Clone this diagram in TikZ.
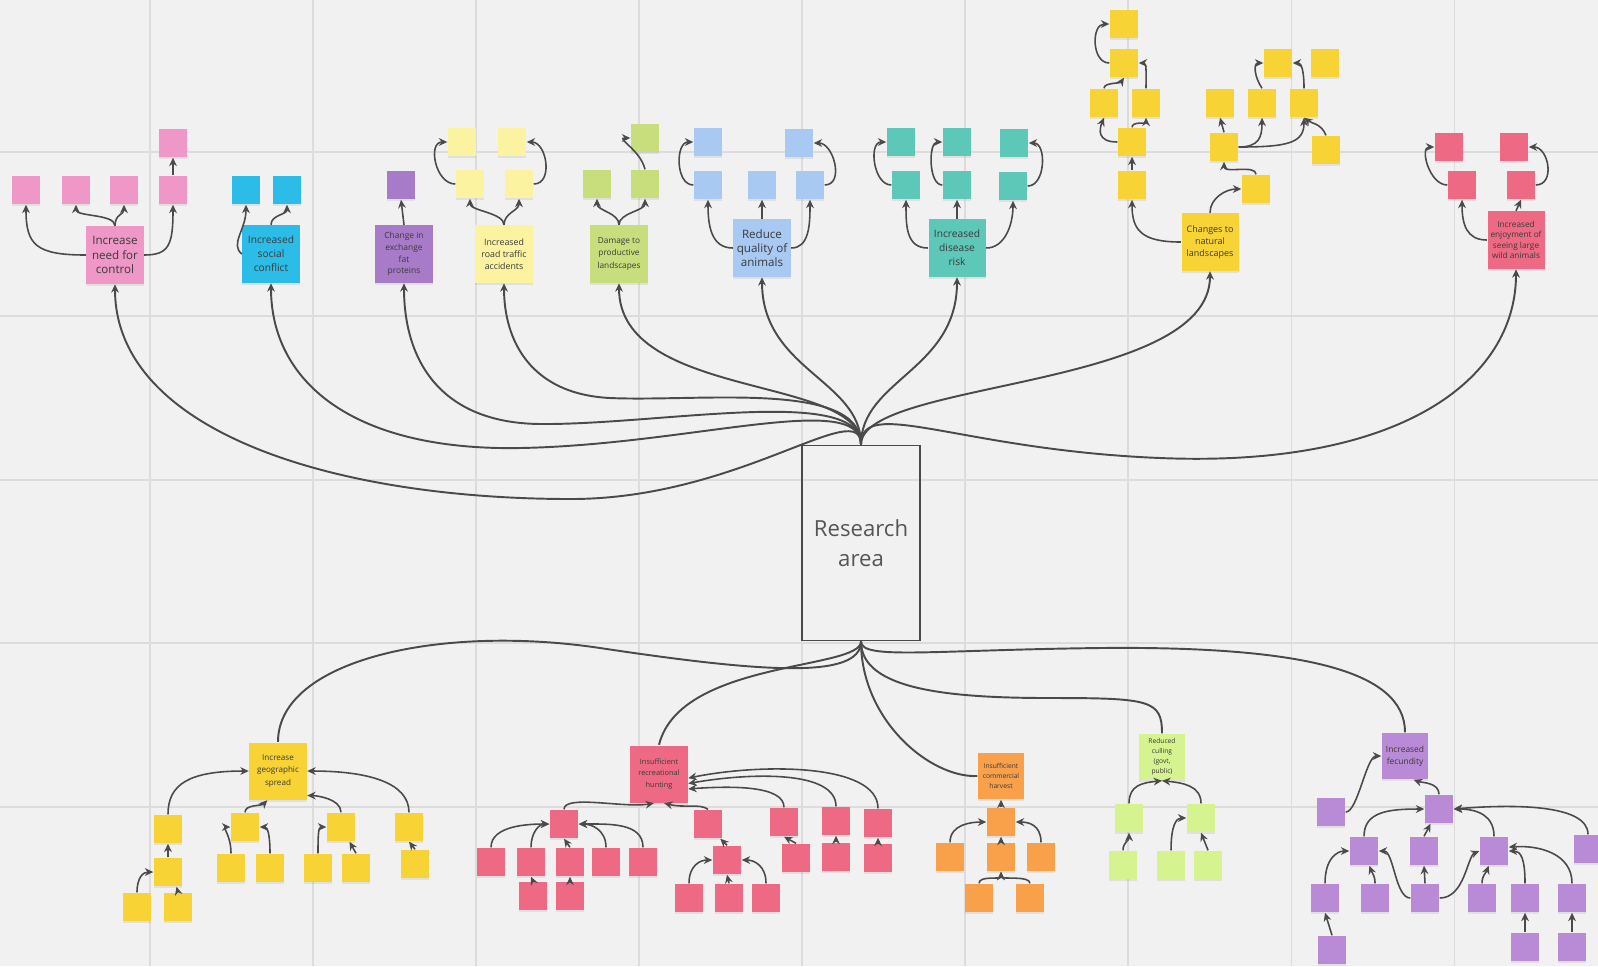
\documentclass[tikz,border=0pt]{standalone}
\usepackage{fontspec}
\setmainfont{Open Sans}
\usetikzlibrary{arrows.meta,shadows}

\definecolor{canvasgrey}{HTML}{F1F1F1}
\definecolor{gridgrey}{HTML}{DCDCDC}
\definecolor{linkgrey}{HTML}{4A4A4A}
\definecolor{notetext}{HTML}{3A3A3A}
\definecolor{areatext}{HTML}{555555}
\definecolor{notepink}{HTML}{EF97C6}
\definecolor{notecyan}{HTML}{2BBDE8}
\definecolor{noteviolet}{HTML}{A77BC8}
\definecolor{notecream}{HTML}{FBF3A0}
\definecolor{notelime}{HTML}{C8DE7C}
\definecolor{noteblue}{HTML}{A8C9F2}
\definecolor{noteteal}{HTML}{5DC8B8}
\definecolor{noteyellow}{HTML}{F8D335}
\definecolor{noterose}{HTML}{EE6A84}
\definecolor{noteorange}{HTML}{F9A04B}
\definecolor{notemint}{HTML}{D5F38F}
\definecolor{notelilac}{HTML}{B98AD6}

\newcommand{\notesize}[2]{\fontsize{#1}{#2}\selectfont}

\tikzset{
  sticky/.style={inner sep=0pt, align=center, text=notetext,
    drop shadow={shadow xshift=0pt, shadow yshift=-0.6pt, opacity=0.15}},
  bignote/.style={sticky, minimum size=0.57cm},
  midnote/.style={sticky, minimum size=0.46cm},
  tinynote/.style={sticky, minimum size=0.28cm},
  link/.style={draw=linkgrey, line width=0.45pt, -{Stealth[length=2.4pt,width=2.2pt]}},
  trunk/.style={draw=linkgrey, line width=0.55pt},
}

\begin{document}
\begin{tikzpicture}[x=0.01cm, y=-0.01cm]
\useasboundingbox (0,0) rectangle (1598,966);
\fill[canvasgrey] (0,0) rectangle (1598,966);
\foreach \gx in {150,313,476,639,802,965,1128,1291,1454}
  \draw[gridgrey, line width=0.3pt] (\gx,0) -- (\gx,966);
\foreach \gy in {152,316,480,643,807}
  \draw[gridgrey, line width=0.3pt] (0,\gy) -- (1598,\gy);

% centre
\node[draw=linkgrey, line width=0.5pt, minimum width=1.12cm, minimum height=1.95cm,
  align=center, text=areatext, font=\notesize{6.3}{8.5}] (ra) at (861,543) {Research\\area};

% ---- top: pink
\node[bignote, fill=notepink, font=\notesize{3.3}{4.2}] (ctrl) at (115,255) {Increase\\need for\\control};
\node[tinynote, fill=notepink] (ctrlA) at (26,190) {};
\node[tinynote, fill=notepink] (ctrlB) at (76,190) {};
\node[tinynote, fill=notepink] (ctrlC) at (124,190) {};
\node[tinynote, fill=notepink] (ctrlD) at (173,190) {};
\node[tinynote, fill=notepink] (ctrlE) at (173,143) {};
\draw[link] (ctrl.west) .. controls +(-50,0) and +(0,40) .. (ctrlA.south);
\draw[link] (ctrl.north) .. controls +(0,-12) and +(0,12) .. (ctrlB.south);
\draw[link] (ctrl.north) .. controls +(0,-12) and +(0,10) .. (ctrlC.south);
\draw[link] (ctrl.east) .. controls +(25,0) and +(0,40) .. (ctrlD.south);
\draw[link] (ctrlD.north) -- (ctrlE.south);

% ---- top: cyan
\node[bignote, fill=notecyan, font=\notesize{2.9}{4.0}] (soc) at (271,254) {Increased\\social\\conflict};
\node[tinynote, fill=notecyan] (socA) at (246,190) {};
\node[tinynote, fill=notecyan] (socB) at (287,190) {};
\draw[link] (soc.west) .. controls +(-12,-10) and +(0,25) .. (socA.south);
\draw[link] (soc.north) .. controls +(0,-10) and +(0,10) .. (socB.south);

% ---- top: violet
\node[bignote, fill=noteviolet, font=\notesize{2.4}{3.3}] (fat) at (404,254) {Change in\\exchange\\fat\\proteins};
\node[tinynote, fill=noteviolet] (fatA) at (401,185) {};
\draw[link] (fat.north) -- (fatA.south);

% ---- top: cream
\node[bignote, fill=notecream, font=\notesize{2.5}{3.5}] (road) at (504,254) {Increased\\road traffic\\accidents};
\node[tinynote, fill=notecream] (roadA) at (462,142) {};
\node[tinynote, fill=notecream] (roadB) at (512,142) {};
\node[tinynote, fill=notecream] (roadC) at (470,184) {};
\node[tinynote, fill=notecream] (roadD) at (519,184) {};
\draw[link] (road.north) .. controls +(0,-12) and +(0,12) .. (roadC.south);
\draw[link] (road.north) .. controls +(0,-12) and +(0,12) .. (roadD.south);
\draw[link] (roadC.west) .. controls +(-20,0) and +(-20,0) .. (roadA.west);
\draw[link] (roadD.east) .. controls +(20,0) and +(20,0) .. (roadB.east);

% ---- top: lime
\node[bignote, fill=notelime, font=\notesize{2.35}{3.5}] (dmg) at (619,254) {Damage to\\productive\\landscapes};
\node[tinynote, fill=notelime] (dmgA) at (597,184) {};
\node[tinynote, fill=notelime] (dmgB) at (645,184) {};
\node[tinynote, fill=notelime] (dmgC) at (645,138) {};
\draw[link] (dmg.north) .. controls +(0,-12) and +(0,12) .. (dmgA.south);
\draw[link] (dmg.north) .. controls +(0,-12) and +(0,12) .. (dmgB.south);
\draw[link] (dmgB.north) .. controls +(-5,-20) and +(-15,0) .. (dmgC.west);

% ---- top: blue
\node[bignote, fill=noteblue, font=\notesize{3.3}{4.0}] (qual) at (762,248) {Reduce\\quality of\\animals};
\node[tinynote, fill=noteblue] (qualA) at (708,142) {};
\node[tinynote, fill=noteblue] (qualB) at (799,143) {};
\node[tinynote, fill=noteblue] (qualC) at (708,185) {};
\node[tinynote, fill=noteblue] (qualD) at (762,185) {};
\node[tinynote, fill=noteblue] (qualE) at (810,185) {};
\draw[link] (qual.west) .. controls +(-22,0) and +(0,25) .. (qualC.south);
\draw[link] (qual.north) -- (qualD.south);
\draw[link] (qual.east) .. controls +(18,0) and +(0,25) .. (qualE.south);
\draw[link] (qualC.west) .. controls +(-18,0) and +(-18,0) .. (qualA.west);
\draw[link] (qualE.east) .. controls +(20,0) and +(20,0) .. (qualB.east);

% ---- top: teal
\node[bignote, fill=noteteal, font=\notesize{2.9}{4.0}] (dis) at (957,248) {Increased\\disease\\risk};
\node[tinynote, fill=noteteal] (disA) at (901,142) {};
\node[tinynote, fill=noteteal] (disB) at (957,142) {};
\node[tinynote, fill=noteteal] (disC) at (906,185) {};
\node[tinynote, fill=noteteal] (disD) at (957,185) {};
\node[tinynote, fill=noteteal] (disE) at (1014,143) {};
\node[tinynote, fill=noteteal] (disF) at (1013,186) {};
\draw[link] (dis.west) .. controls +(-22,0) and +(0,25) .. (disC.south);
\draw[link] (dis.north) -- (disD.south);
\draw[link] (dis.east) .. controls +(18,0) and +(0,25) .. (disF.south);
\draw[link] (disC.west) .. controls +(-18,0) and +(-18,0) .. (disA.west);
\draw[link] (disD.west) .. controls +(-14,0) and +(-14,0) .. (disB.west);
\draw[link] (disF.east) .. controls +(18,0) and +(18,0) .. (disE.east);

% ---- top: yellow
\node[bignote, fill=noteyellow, font=\notesize{2.55}{3.5}] (nat) at (1210,242) {Changes to\\natural\\landscapes};
\node[tinynote, fill=noteyellow] (natA) at (1124,24) {};
\node[tinynote, fill=noteyellow] (natB) at (1124,63) {};
\node[tinynote, fill=noteyellow] (natC) at (1104,103) {};
\node[tinynote, fill=noteyellow] (natD) at (1146,103) {};
\node[tinynote, fill=noteyellow] (natE) at (1132,142) {};
\node[tinynote, fill=noteyellow] (natF) at (1132,185) {};
\node[tinynote, fill=noteyellow] (natG) at (1256,189) {};
\node[tinynote, fill=noteyellow] (natH) at (1224,147) {};
\node[tinynote, fill=noteyellow] (natI) at (1220,103) {};
\node[tinynote, fill=noteyellow] (natJ) at (1262,103) {};
\node[tinynote, fill=noteyellow] (natK) at (1304,103) {};
\node[tinynote, fill=noteyellow] (natL) at (1278,63) {};
\node[tinynote, fill=noteyellow] (natM) at (1325,63) {};
\node[tinynote, fill=noteyellow] (natN) at (1326,150) {};
\draw[link] (nat.west) .. controls +(-40,0) and +(0,30) .. (natF.south);
\draw[link] (nat.north) .. controls +(0,-15) and +(-15,0) .. (natG.west);
\draw[link] (natG.north) .. controls +(0,-10) and +(0,12) .. (natH.south);
\draw[link] (natH.north) -- (natI.south);
\draw[link] (natH.east) .. controls +(20,0) and +(0,20) .. (natJ.south);
\draw[link] (natH.east) .. controls +(50,0) and +(0,25) .. (natK.south);
\draw[link] (natN.north) .. controls +(-5,-12) and +(8,6) .. (natK.south);
\draw[link] (natJ.north) .. controls +(-8,-12) and +(-10,0) .. (natL.west);
\draw[link] (natK.north) .. controls +(0,-12) and +(10,0) .. (natL.east);
\draw[link] (natF.north) -- (natE.south);
\draw[link] (natE.west) .. controls +(-20,0) and +(-5,12) .. (natC.south);
\draw[link] (natE.north) .. controls +(0,-6) and +(0,6) .. (natD.south);
\draw[link] (natC.north) .. controls +(0,-6) and +(-4,6) .. (natB.south);
\draw[link] (natD.north) .. controls +(0,-15) and +(8,0) .. (natB.east);
\draw[link] (natB.west) .. controls +(-18,0) and +(-18,0) .. (natA.west);

% ---- top: rose
\node[bignote, fill=noterose, font=\notesize{2.35}{3.0}] (enj) at (1516,240) {Increased\\enjoyment of\\seeing large\\wild animals};
\node[tinynote, fill=noterose] (enjA) at (1449,147) {};
\node[tinynote, fill=noterose] (enjB) at (1514,147) {};
\node[tinynote, fill=noterose] (enjC) at (1462,185) {};
\node[tinynote, fill=noterose] (enjD) at (1521,185) {};
\draw[link] (enj.west) .. controls +(-20,0) and +(0,25) .. (enjC.south);
\draw[link] (enj.north) -- (enjD.south);
\draw[link] (enjC.west) .. controls +(-18,0) and +(-15,0) .. (enjA.west);
\draw[link] (enjD.east) .. controls +(20,0) and +(20,0) .. (enjB.east);

% ---- centre to top
\draw[link, line width=0.55pt] (ra.north) .. controls (861,395) and (740,499) .. (571,499) .. controls (330,499) and (115,430) .. (ctrl.south);
\draw[link, line width=0.55pt] (ra.north) .. controls (861,390) and (690,445) .. (520,448) .. controls (350,451) and (271,380) .. (soc.south);
\draw[link, line width=0.55pt] (ra.north) .. controls (861,385) and (660,425) .. (540,424) .. controls (440,423) and (404,360) .. (fat.south);
\draw[link, line width=0.55pt] (ra.north) .. controls (861,380) and (700,402) .. (610,398) .. controls (530,394) and (504,340) .. (road.south);
\draw[link, line width=0.55pt] (ra.north) .. controls (861,375) and (619,400) .. (dmg.south);
\draw[link, line width=0.55pt] (ra.north) .. controls (861,380) and (762,370) .. (qual.south);
\draw[link, line width=0.55pt] (ra.north) .. controls (861,380) and (957,370) .. (dis.south);
\draw[link, line width=0.55pt] (ra.north) .. controls (861,380) and (1210,390) .. (nat.south);
\draw[link, line width=0.55pt] (ra.north) .. controls (861,395) and (960,450) .. (1160,458) .. controls (1400,468) and (1516,380) .. (enj.south);

% ---- bottom: yellow
\node[bignote, fill=noteyellow, font=\notesize{2.3}{3.5}] (geo) at (278,771) {Increase\\geographic\\spread};
\node[tinynote, fill=noteyellow] (geoA) at (168,829) {};
\node[tinynote, fill=noteyellow] (geoB) at (168,872) {};
\node[tinynote, fill=noteyellow] (geoC) at (137,907) {};
\node[tinynote, fill=noteyellow] (geoD) at (178,907) {};
\node[tinynote, fill=noteyellow] (geoE) at (245,827) {};
\node[tinynote, fill=noteyellow] (geoF) at (231,868) {};
\node[tinynote, fill=noteyellow] (geoG) at (270,868) {};
\node[tinynote, fill=noteyellow] (geoH) at (341,827) {};
\node[tinynote, fill=noteyellow] (geoI) at (318,868) {};
\node[tinynote, fill=noteyellow] (geoJ) at (356,868) {};
\node[tinynote, fill=noteyellow] (geoK) at (409,827) {};
\node[tinynote, fill=noteyellow] (geoL) at (415,864) {};
\draw[link] (geoA.north) .. controls +(0,-30) and +(-60,0) .. (geo.west);
\draw[link] (geoK.north) .. controls +(0,-30) and +(60,0) .. (geo.east);
\draw[link] (geoE.north) .. controls +(0,-8) and +(-6,6) .. (geo.250);
\draw[link] (geoH.north) .. controls +(0,-14) and +(8,0) .. (geo.320);
\draw[link] (geoB.north) -- (geoA.south);
\draw[link] (geoC.north) .. controls +(0,-15) and +(-10,0) .. (geoB.west);
\draw[link] (geoD.north) -- (geoB.-60);
\draw[link] (geoF.north) .. controls +(0,-18) and +(-8,0) .. (geoE.west);
\draw[link] (geoG.north) .. controls +(0,-18) and +(8,0) .. (geoE.east);
\draw[link] (geoI.north) .. controls +(0,-18) and +(-8,0) .. (geoH.west);
\draw[link] (geoJ.north) -- (geoH.-60);
\draw[link] (geoL.north) -- (geoK.south);

% ---- bottom: rose
\node[bignote, fill=noterose, font=\notesize{2.1}{3.3}] (rec) at (659,774) {Insufficient\\recreational\\hunting};
\node[tinynote, fill=noterose] (recA) at (564,824) {};
\node[tinynote, fill=noterose] (recB) at (491,862) {};
\node[tinynote, fill=noterose] (recC) at (531,862) {};
\node[tinynote, fill=noterose] (recD) at (570,862) {};
\node[tinynote, fill=noterose] (recE) at (606,862) {};
\node[tinynote, fill=noterose] (recF) at (643,862) {};
\node[tinynote, fill=noterose] (recG) at (533,896) {};
\node[tinynote, fill=noterose] (recH) at (570,896) {};
\node[tinynote, fill=noterose] (recI) at (708,824) {};
\node[tinynote, fill=noterose] (recJ) at (727,860) {};
\node[tinynote, fill=noterose] (recK) at (689,898) {};
\node[tinynote, fill=noterose] (recL) at (729,898) {};
\node[tinynote, fill=noterose] (recM) at (766,898) {};
\node[tinynote, fill=noterose] (recN) at (784,822) {};
\node[tinynote, fill=noterose] (recO) at (796,858) {};
\node[tinynote, fill=noterose] (recP) at (836,821) {};
\node[tinynote, fill=noterose] (recQ) at (836,857) {};
\node[tinynote, fill=noterose] (recR) at (878,823) {};
\node[tinynote, fill=noterose] (recS) at (878,858) {};
\draw[link] (recA.north) .. controls +(0,-15) and +(-30,5) .. (rec.-100);
\draw[link] (recI.north) .. controls +(-8,-6) and +(20,5) .. (rec.-80);
\draw[link] (recB.north) .. controls +(0,-22) and +(-20,0) .. (recA.west);
\draw[link] (recC.north) .. controls +(0,-15) and +(-10,0) .. (recA.west);
\draw[link] (recD.north) -- (recA.south);
\draw[link] (recE.north) .. controls +(0,-18) and +(12,0) .. (recA.east);
\draw[link] (recF.north) .. controls +(0,-25) and +(30,0) .. (recA.east);
\draw[link] (recG.north) -- (recC.south);
\draw[link] (recH.north) -- (recD.south);
\draw[link] (recJ.north) -- (recI.-50);
\draw[link] (recK.north) .. controls +(0,-18) and +(-12,0) .. (recJ.west);
\draw[link] (recL.north) -- (recJ.south);
\draw[link] (recM.north) .. controls +(0,-18) and +(12,0) .. (recJ.east);
\draw[link] (recN.north) .. controls +(0,-22) and +(43,-3) .. (rec.-27);
\draw[link] (recP.north) .. controls +(0,-36) and +(63,-11) .. (rec.-18);
\draw[link] (recR.north) .. controls +(0,-45) and +(73,-15) .. (rec.-8);
\draw[link] (recO.north) -- (recN.south);
\draw[link] (recQ.north) -- (recP.south);
\draw[link] (recS.north) -- (recR.south);

% ---- bottom: orange
\node[midnote, fill=noteorange, font=\notesize{1.9}{2.8}] (com) at (1001,776) {Insufficient\\commercial\\harvest};
\node[tinynote, fill=noteorange] (comA) at (1001,822) {};
\node[tinynote, fill=noteorange] (comB) at (950,857) {};
\node[tinynote, fill=noteorange] (comC) at (1001,857) {};
\node[tinynote, fill=noteorange] (comD) at (1041,857) {};
\node[tinynote, fill=noteorange] (comE) at (979,898) {};
\node[tinynote, fill=noteorange] (comF) at (1030,898) {};
\draw[link] (comA.north) -- (com.south);
\draw[link] (comB.north) .. controls +(0,-18) and +(-15,0) .. (comA.west);
\draw[link] (comC.north) -- (comA.south);
\draw[link] (comD.north) .. controls +(0,-18) and +(12,0) .. (comA.east);
\draw[link] (comE.north) .. controls +(0,-8) and +(0,8) .. (comC.south);
\draw[link] (comF.north) .. controls +(0,-8) and +(0,8) .. (comC.south);

% ---- bottom: mint
\node[midnote, fill=notemint, font=\notesize{1.9}{2.8}] (cull) at (1162,757) {Reduced\\culling\\(govt,\\public)};
\node[tinynote, fill=notemint] (cullA) at (1129,818) {};
\node[tinynote, fill=notemint] (cullB) at (1201,818) {};
\node[tinynote, fill=notemint] (cullC) at (1123,865) {};
\node[tinynote, fill=notemint] (cullD) at (1171,865) {};
\node[tinynote, fill=notemint] (cullE) at (1208,865) {};
\draw[link] (cullA.north) .. controls +(0,-18) and +(-20,2) .. (cull.south);
\draw[link] (cullB.north) .. controls +(0,-18) and +(20,2) .. (cull.south);
\draw[link] (cullC.north) .. controls +(0,-8) and +(0,8) .. (cullA.south);
\draw[link] (cullD.north) .. controls +(0,-25) and +(-10,0) .. (cullB.west);
\draw[link] (cullE.north) -- (cullB.south);

% ---- bottom: lilac
\node[midnote, fill=notelilac, font=\notesize{2.4}{3.3}] (fec) at (1405,756) {Increased\\fecundity};
\node[tinynote, fill=notelilac] (fecA) at (1331,812) {};
\node[tinynote, fill=notelilac] (fecB) at (1439,809) {};
\node[tinynote, fill=notelilac] (fecC) at (1364,851) {};
\node[tinynote, fill=notelilac] (fecD) at (1424,851) {};
\node[tinynote, fill=notelilac] (fecE) at (1494,851) {};
\node[tinynote, fill=notelilac] (fecF) at (1588,849) {};
\node[tinynote, fill=notelilac] (fecG) at (1325,898) {};
\node[tinynote, fill=notelilac] (fecH) at (1375,898) {};
\node[tinynote, fill=notelilac] (fecI) at (1425,898) {};
\node[tinynote, fill=notelilac] (fecJ) at (1482,898) {};
\node[tinynote, fill=notelilac] (fecK) at (1525,898) {};
\node[tinynote, fill=notelilac] (fecL) at (1572,898) {};
\node[tinynote, fill=notelilac] (fecM) at (1332,950) {};
\node[tinynote, fill=notelilac] (fecN) at (1525,947) {};
\node[tinynote, fill=notelilac] (fecO) at (1572,947) {};
\draw[link] (fecA.east) .. controls +(12,0) and +(-15,0) .. (fec.west);
\draw[link] (fecB.north) .. controls +(0,-12) and +(8,3) .. (fec.-70);
\draw[link] (fecC.north) .. controls +(0,-25) and +(-35,0) .. (fecB.west);
\draw[link] (fecE.north) .. controls +(0,-20) and +(25,0) .. (fecB.east);
\draw[link] (fecF.north) .. controls +(0,-30) and +(60,-5) .. (fecB.east);
\draw[link] (fecD.north) -- (fecB.-120);
\draw[link] (fecG.north) .. controls +(0,-25) and +(-12,0) .. (fecC.west);
\draw[link] (fecH.north) .. controls +(0,-8) and +(3,8) .. (fecC.-70);
\draw[link] (fecI.west) .. controls +(-15,0) and +(15,0) .. (fecC.east);
\draw[link] (fecI.north) -- (fecD.south);
\draw[link] (fecI.east) .. controls +(25,0) and +(-12,5) .. (fecE.west);
\draw[link] (fecJ.north) .. controls +(0,-8) and +(-3,8) .. (fecE.-110);
\draw[link] (fecK.north) .. controls +(0,-25) and +(12,0) .. (fecE.east);
\draw[link] (fecL.north) .. controls +(0,-30) and +(30,-2) .. (fecE.15);
\draw[link] (fecM.north) -- (fecG.south);
\draw[link] (fecN.north) -- (fecK.south);
\draw[link] (fecO.north) -- (fecL.south);

% ---- centre to bottom
\draw[trunk] (ra.south) .. controls (861,680) and (760,672) .. (600,648) .. controls (440,624) and (278,660) .. (geo.north);
\draw[trunk] (ra.south) .. controls (861,670) and (680,660) .. (rec.north);
\draw[trunk] (ra.south) .. controls (861,720) and (930,778) .. (com.west);
\draw[trunk] (ra.south) .. controls (861,690) and (950,698) .. (1050,698) .. controls (1150,698) and (1162,700) .. (cull.north);
\draw[trunk] (ra.south) .. controls (861,660) and (930,650) .. (1100,648) .. controls (1300,646) and (1405,670) .. (fec.north);
\end{tikzpicture}
\end{document}
